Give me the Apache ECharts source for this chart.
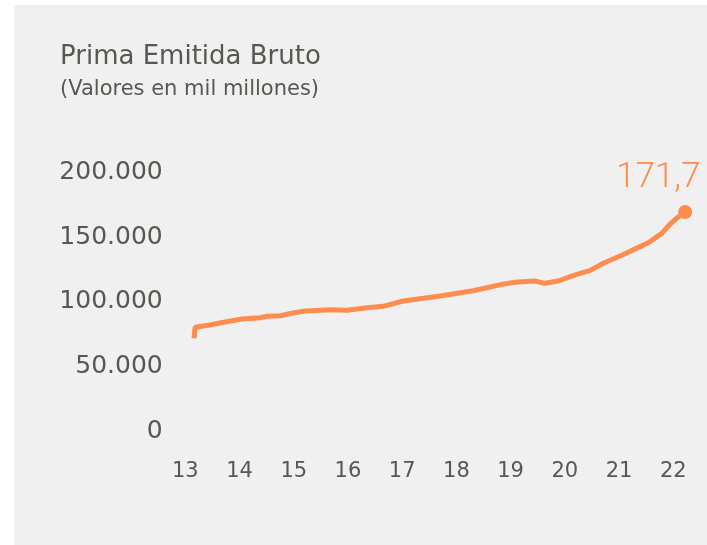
<!DOCTYPE html>
<html>
<head>
<meta charset="utf-8">
<script src="https://cdn.jsdelivr.net/npm/echarts@6/dist/echarts.min.js"></script>
<style>
html,body{margin:0;padding:0;background:#ffffff;}
#panel{position:absolute;left:14px;top:5px;width:693px;height:540px;background:#f0f0f0;}
#chart{position:absolute;left:0;top:0;width:707px;height:545px;}
</style>
</head>
<body>
<div id="panel"></div>
<div id="chart"></div>
<script>
// Fractional year (monthly position) and value (millones)
var years = [2013.16, 2013.18, 2013.45, 2013.76, 2014.04, 2014.38, 2014.50, 2014.75, 2014.99, 2015.21,
             2015.67, 2015.98, 2016.35, 2016.65, 2017.02, 2017.39, 2017.70, 2018.31, 2018.84, 2019.08,
             2019.45, 2019.63, 2019.88, 2020.16, 2020.46, 2020.71, 2021.05, 2021.23, 2021.54, 2021.79,
             2021.94, 2022.06, 2022.22];
var values = [71800, 80300, 82000, 84600, 86700, 87700, 88800, 89200, 91300, 92900,
              93900, 93400, 95400, 96500, 100600, 102700, 104500, 108600, 113500, 115100,
              116100, 114300, 116100, 120500, 124100, 129800, 136000, 139600, 145700, 153000,
              160200, 164600, 169500];
var xTickYears = [2013, 2014, 2015, 2016, 2017, 2018, 2019, 2020, 2021, 2022];
var xTickLabels = ['13', '14', '15', '16', '17', '18', '19', '20', '21', '22'];
var yTicks = [0, 50000, 100000, 150000, 200000];
var yTickLabels = ['0', '50.000', '100.000', '150.000', '200.000'];
var lastLabel = '171,7';
var titleText = 'Prima Emitida Bruto';
var subtitleText = '(Valores en mil millones)';

var textColor = '#5a5652';
var orange = '#ff8c4f';

var seriesData = years.map(function (y, i) {
  var item = { value: [y, values[i]] };
  if (i === years.length - 1) {
    item.symbol = 'circle';
    item.symbolSize = 14;
    item.label = {
      show: true,
      position: 'top',
      offset: [-27, -4],
      formatter: lastLabel,
      color: orange,
      fontFamily: 'Roboto',
      fontSize: 35,
      fontWeight: 300
    };
  }
  return item;
});

var chart = echarts.init(document.getElementById('chart'), null, { renderer: 'canvas' });
chart.setOption({
  animation: false,
  backgroundColor: 'transparent',
  title: [
    { text: titleText, left: 60, top: 44, padding: 0,
      textStyle: { fontFamily: 'DejaVu Sans', fontSize: 26, fontWeight: 'normal', color: textColor } },
    { text: subtitleText, left: 60, top: 79, padding: 0,
      textStyle: { fontFamily: 'DejaVu Sans', fontSize: 21, fontWeight: 'normal', color: textColor } }
  ],
  grid: { left: 185.35, right: 17.5, top: 172.6, bottom: 114, containLabel: false },
  xAxis: {
    type: 'value',
    min: 2013,
    max: 2022.3,
    interval: 1,
    axisLine: { show: false },
    axisTick: { show: false },
    splitLine: { show: false },
    axisLabel: {
      margin: 30,
      fontFamily: 'DejaVu Sans',
      fontSize: 21,
      color: textColor,
      showMaxLabel: false,
      formatter: function (v) {
        var idx = xTickYears.indexOf(Math.round(v * 1000) / 1000);
        return idx >= 0 ? xTickLabels[idx] : '';
      }
    }
  },
  yAxis: {
    type: 'value',
    min: 0,
    max: 200000,
    interval: 50000,
    axisLine: { show: false },
    axisTick: { show: false },
    splitLine: { show: false },
    axisLabel: {
      margin: 22.6,
      fontFamily: 'DejaVu Sans',
      fontSize: 25,
      color: textColor,
      formatter: function (v) {
        var idx = yTicks.indexOf(v);
        return idx >= 0 ? yTickLabels[idx] : '';
      }
    }
  },
  series: [{
    type: 'line',
    data: seriesData,
    showSymbol: true,
    symbol: 'none',
    lineStyle: { color: orange, width: 5 },
    itemStyle: { color: orange },
    clip: false
  }]
});
</script>
</body>
</html>
